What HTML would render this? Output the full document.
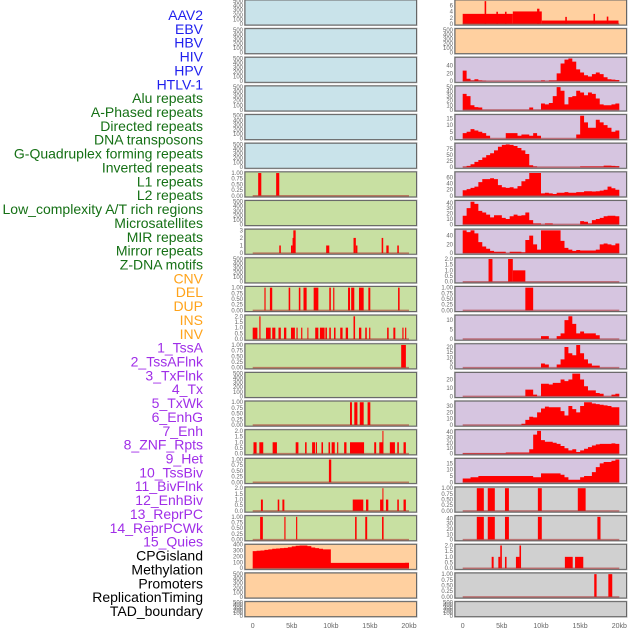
<!DOCTYPE html>
<html><head><meta charset="utf-8">
<style>
html,body{margin:0;padding:0;background:#fff;}
svg{display:block;font-family:"Liberation Sans",sans-serif;}
</style></head>
<body>
<svg id="chart" width="630" height="630" viewBox="0 0 630 630" xmlns="http://www.w3.org/2000/svg">
<g id="labels"></g>
<g id="panels"></g>
<g id="xaxis"></g>
</svg>
<script>
// ---- feature labels ----
const labelNames = ["AAV2","EBV","HBV","HIV","HPV","HTLV-1","Alu repeats","A-Phased repeats","Directed repeats","DNA transposons","G-Quadruplex forming repeats","Inverted repeats","L1 repeats","L2 repeats","Low_complexity A/T rich regions","Microsatellites","MIR repeats","Mirror repeats","Z-DNA motifs","CNV","DEL","DUP","INS","INV","1_TssA","2_TssAFlnk","3_TxFlnk","4_Tx","5_TxWk","6_EnhG","7_Enh","8_ZNF_Rpts","9_Het","10_TssBiv","11_BivFlnk","12_EnhBiv","13_ReprPC","14_ReprPCWk","15_Quies","CPGisland","Methylation","Promoters","ReplicationTiming","TAD_boundary"];
const labelGroups = ["v","v","v","v","v","v","r","r","r","r","r","r","r","r","r","r","r","r","r","s","s","s","s","s","c","c","c","c","c","c","c","c","c","c","c","c","c","c","c","k","k","k","k","k"];

// ---- tick labels ----
const ticksEmpty = ["0","100","200","300","400","500"];
const ticksUnit = ["0.00","0.25","0.50","0.75","1.00"];
const ticksTwo = ["0.0","0.5","1.0","1.5","2.0"];
const xTickLabels = ["0","5kb","10kb","15kb","20kb"];
const xTickValues = [0,5,10,15,20];

// ---- series (bins = 0.5kb bins; segs = [startKb, endKb, value]) ----
const r0Right = [[0,6.4,3.3],[6.4,10.1,4.1],[10.1,19.9,1.1],[2.8,3.0,7.5],[4.3,4.5,4],[5.4,5.6,4],[9.5,9.8,5],[13.1,13.3,2.3],[16.7,16.9,3.3],[18.4,18.6,2.4]];
const r2Right = [27,6,2,5,2,1,0,0,0,0,0,0,0,0,0,0,0,0,0,0,2,0,2,2,20,45,55,58,50,30,22,15,12,18,22,18,10,5,4,3];
const r3Right = [35,30,10,6,5,0,0,0,0,0,0,0,0,0,0,0,0,5,0,0,14,12,15,30,50,42,12,28,30,42,38,32,38,35,25,12,10,10,12,14];
const r4Right = [4,5,7,6,5,4,2,0,0,0,0,4,4,4,2,3,3,2,4,2,0,0,0,0,0,0,0,0,0,3,17,12,8,8,14,12,10,8,5,6];
const r5Right = [2,5,12,22,30,40,50,58,70,85,93,95,93,88,80,70,55,8,3,0,0,0,0,0,0,0,0,0,0,0,3,3,3,3,3,3,6,6,5,4];
const r6Left = [[0.7,1.1,1],[3.0,3.4,1]];
const r6Right = [18,22,26,30,45,55,55,58,55,35,28,26,28,24,32,48,55,75,75,75,8,10,8,6,10,10,12,10,10,12,12,15,15,14,15,17,20,30,25,20];
const r7Right = [16,30,42,38,25,22,18,13,17,17,12,10,15,18,16,17,22,8,2,2,0,2,2,0,0,0,0,0,0,0,6,5,2,8,10,12,15,16,16,15];
const r8Left = [[3.4,3.6,1],[4.9,5.1,1],[5.1,5.2,2],[5.2,5.5,3],[9.4,9.8,1],[12.9,13.2,2],[13.2,13.4,1],[16.5,16.7,2],[17.1,17.4,1],[18.5,18.7,1]];
const r8Right = [52,48,52,45,25,15,10,5,3,3,3,0,3,3,3,2,30,40,20,8,52,52,52,52,52,28,12,8,5,7,6,6,6,6,8,20,22,20,18,22];
const r9Right = [[3.3,3.8,2],[5.8,6.4,2],[6.4,8.0,1]];
const r10Left = [[1.5,1.65,1],[2.2,2.5,1],[4.6,4.8,1],[5.9,6.1,1],[6.5,6.9,1],[7.8,8.4,1],[9.8,10.0,1],[10.3,10.45,1],[12.2,12.45,1],[12.6,13.0,1],[13.6,14.2,1],[14.8,15.05,1],[18.6,18.8,1]];
const r10Right = [[8.0,9.0,1]];
const r11Left = [[0,0.6,1],[0.85,1.0,2],[1.7,2.3,1],[2.5,2.9,1],[3.3,3.6,1],[4.0,4.3,1],[4.9,5.4,1],[5.6,5.75,1],[6.2,6.35,1],[7.0,7.1,1],[8.0,8.4,1],[8.6,9.2,1],[9.3,9.5,1],[9.8,10.0,1],[10.4,10.6,1],[11.2,11.5,1],[11.9,12.2,1],[12.9,13.1,2],[13.6,13.9,1],[14.4,14.6,1],[14.9,15.05,1],[17.2,17.4,1],[18.0,18.25,1],[19.15,19.3,1],[19.5,19.65,1]];
const r11Right = [0,0,0,0,0,0,0,0,0,0,0,0,0,0,0,0,0,0,0,0,1.5,1.5,0,0,1.5,3,10,12,8,3,4,3,3,3,2,0,0,0,0,0];
const r12Left = [[19.0,19.6,1]];
const r12Right = [0,0,0,0,0,0,0,0,0,0,0,0,0,0,0,0,0,0,0,0,4,3,0,0,3,8,20,14,12,22,14,8,4,2,2,0,0,0,0,0];
const r13Right = [0,0,0,0,0,0,0,0,0,0,0,0,0,0,0,0,8,8,2,0,15,15,14,16,16,20,18,20,27,27,20,12,7,7,4,3,0,0,2,3];
const r14Left = [[12.45,12.7,1],[13.0,13.4,1],[13.7,14.2,1],[14.7,15.05,1]];
const r14Right = [0,0,0,0,0,0,0,0,0,0,0,0,0,0,0,2,8,13,12,20,26,29,28,28,28,22,15,30,25,20,30,36,36,34,33,32,31,30,28,28];
const r15Left = [[0.1,0.5,1],[0.85,1.35,1],[2.55,3.1,1],[5.5,5.85,1],[6.7,6.9,1],[7.6,8.0,1],[8.1,8.2,1],[8.8,9.0,1],[9.7,9.9,1],[10.1,10.5,1],[10.8,10.95,1],[11.7,12.0,1],[12.45,14.25,1],[15.55,15.8,1],[16.2,16.7,1],[16.6,16.7,2],[17.55,18.2,1],[18.5,18.7,1],[19.3,19.6,1]];
const r15Right = [1,1,1,1,1,1,1,1,1,1,1,2,2,2,2,2,2,8,35,42,25,22,22,20,18,14,10,6,8,3,6,9,12,15,17,18,18,18,19,18];
const r16Left = [[9.75,10.05,1]];
const r16Right = [3,3,4,4,5,5,5,5,5,5,5,5,5,5,5,5,5,5,4,4,7,7,7,7,7,6,4,2,2,2,4,5,5,8,12,15,16,16,17,18];
const r17Left = [[1.05,1.3,1],[3.2,3.4,1],[3.8,4.05,1],[12.8,14.15,1],[14.5,14.8,1],[16.3,16.7,1],[16.6,16.7,2],[17.05,17.35,1],[18.5,18.7,1],[19.3,19.6,1]];
const r17Right = [[1.8,2.7,1],[3.2,4.1,1],[5.4,5.9,1],[9.6,10.1,1],[14.7,15.7,1]];
const r18Left = [[0.95,1.3,1],[4.05,4.2,1],[5.55,5.7,1],[13.1,13.3,1],[14.4,14.65,1],[16.55,16.75,1]];
const r18Right = [[1.8,2.7,43],[3.2,4.1,43],[5.4,5.9,43],[9.6,10.1,43],[17.2,17.6,43]];
const r19Left = [290,295,300,310,320,330,335,340,345,355,370,380,385,385,375,350,340,330,320,320,90,90,90,90,90,90,90,90,90,90,90,90,90,90,90,90,90,90,90,92];
const r19Right = [[3.7,3.95,1],[4.55,4.8,1],[4.8,5.0,2],[5.4,5.6,1],[6.8,7.25,1],[7.25,7.45,2],[13.05,14.05,1],[14.35,15.4,1]];
const r20Right = [[16.8,17.1,1],[18.6,19.1,1]];

const BG = {blue:"#c9e3ea", green:"#c8e0a2", orange:"#ffd0a0", purple:"#d6c5e0", gray:"#d0d0d0"};
// each row: [leftBg, leftType, leftData, leftTicks, rightBg, rightType, rightData, rightTicks]
const rows = [
 ["blue",null,null,ticksEmpty,"orange","segs",r0Right,["0","2","4","6"]],
 ["blue",null,null,ticksEmpty,"orange",null,null,ticksEmpty],
 ["blue",null,null,ticksEmpty,"purple","bins",r2Right,["0","20","40"]],
 ["blue",null,null,ticksEmpty,"purple","bins",r3Right,["0","10","20","30","40","50"]],
 ["blue",null,null,ticksEmpty,"purple","bins",r4Right,["0","5","10","15"]],
 ["blue",null,null,ticksEmpty,"purple","bins",r5Right,["0","25","50","75"]],
 ["green","segs",r6Left,ticksUnit,"purple","bins",r6Right,["0","20","40","60"]],
 ["green",null,null,ticksEmpty,"purple","bins",r7Right,["0","10","20","30","40"]],
 ["green","segs",r8Left,["0","1","2","3"],"purple","bins",r8Right,["0","20","40"]],
 ["green",null,null,ticksEmpty,"purple","segs",r9Right,ticksTwo],
 ["green","segs",r10Left,ticksUnit,"purple","segs",r10Right,ticksUnit],
 ["green","segs",r11Left,ticksTwo,"purple","bins",r11Right,["0","5","10"]],
 ["green","segs",r12Left,ticksUnit,"purple","bins",r12Right,["0","5","10","15","20"]],
 ["green",null,null,ticksEmpty,"purple","bins",r13Right,["0","10","20"]],
 ["green","segs",r14Left,ticksUnit,"purple","bins",r14Right,["0","10","20","30"]],
 ["green","segs",r15Left,ticksTwo,"purple","bins",r15Right,["0","10","20","30","40"]],
 ["green","segs",r16Left,ticksUnit,"purple","bins",r16Right,["0","5","10","15"]],
 ["green","segs",r17Left,ticksTwo,"gray","segs",r17Right,ticksUnit],
 ["green","segs",r18Left,ticksUnit,"gray","segs",r18Right,["0","10","20","30","40"]],
 ["orange","bins",r19Left,["0","100","200","300","400"],"gray","segs",r19Right,ticksTwo],
 ["orange",null,null,ticksEmpty,"gray","segs",r20Right,ticksUnit],
 ["orange",null,null,ticksEmpty,"gray",null,null,ticksEmpty]
];

const NS = "http://www.w3.org/2000/svg";
function mk(tag, attrs, parent){
  const e = document.createElementNS(NS, tag);
  for (const k in attrs) e.setAttribute(k, attrs[k]);
  parent.appendChild(e);
  return e;
}

// labels
const COLORS = {v:"#1f1fee", r:"#157015", s:"#ffa31a", c:"#a02ee8", k:"#000000"};
const gL = document.getElementById("labels");
labelNames.forEach((name, i) => {
  const t = mk("text", {x:203, y:(15 + i*13.86 + 5).toFixed(1), "text-anchor":"end", "font-size":"14", fill:COLORS[labelGroups[i]]}, gL);
  t.textContent = name;
  
  
});

// panels
const SIDES = [{x0:245, x1:416.5, z:252.7, k:7.815}, {x0:455, x1:626.5, z:462.7, k:7.83}];
const gP = document.getElementById("panels");
rows.forEach((row, ri) => {
  const top = ri*28.65;
  const h = ri === 21 ? 15 : 25;
  [0,1].forEach(side => {
    const bg = row[side*4], type = row[side*4+1], data = row[side*4+2], ticks = row[side*4+3];
    const S = SIDES[side];
    const g = mk("g", {}, gP);
    
    
    mk("rect", {x:S.x0-0.5, y:top-0.5, width:S.x1-S.x0+1, height:h+1, fill:"none", stroke:"#bbb", "stroke-width":"1"}, g);
    mk("rect", {x:S.x0, y:top, width:S.x1-S.x0, height:h, fill:BG[bg], stroke:"#666", "stroke-width":"1"}, g);
    let M;
    if (!type) M = 500;
    else if (type === "bins") M = Math.max(...data);
    else M = Math.max(...data.map(d => d[2]));
    const yv = v => top + h*(1.05*M - v)/(1.1*M);
    const xv = kb => S.z + kb*S.k;
    // ticks
    ticks.forEach(lbl => {
      const v = parseFloat(lbl);
      const tt = mk("text", {x:S.x0-2, y:(yv(v)+2).toFixed(1), "text-anchor":"end", "font-size":"6", fill:"#666"}, g);
      tt.textContent = lbl;
      
      
    });
    if (type === "bins") {
      let d = "M" + xv(0).toFixed(2) + "," + yv(0).toFixed(2);
      data.forEach((v, i) => {
        d += "L" + xv(i*0.5).toFixed(2) + "," + yv(v).toFixed(2) + "L" + xv((i+1)*0.5).toFixed(2) + "," + yv(v).toFixed(2);
      });
      d += "L" + xv(data.length*0.5).toFixed(2) + "," + yv(0).toFixed(2) + "Z";
      const p = mk("path", {d:d, fill:"#ff0000"}, g);
      
      
    } else if (type === "segs") {
      data.forEach(s => {
        const r = mk("rect", {x:xv(s[0]).toFixed(2), y:yv(s[2]).toFixed(2), width:Math.max(1, xv(s[1])-xv(s[0])).toFixed(2), height:(yv(0)-yv(s[2])).toFixed(2), fill:"#ff0000"}, g);
        
        
      });
    }
    if (type) {
      const bl = mk("line", {x1:xv(0), x2:xv(20), y1:yv(0), y2:yv(0), stroke:"rgba(170,40,40,0.55)", "stroke-width":"1.5"}, g);
      
      
    }
  });
});

// x axis labels
const gX = document.getElementById("xaxis");
SIDES.forEach(S => {
  xTickValues.forEach((v, i) => {
    const t = mk("text", {x:(S.z + v*S.k).toFixed(1), y:628, "text-anchor":"middle", "font-size":"7", fill:"#666"}, gX);
    t.textContent = xTickLabels[i];
    
    
  });
});
</script>
</body></html>
